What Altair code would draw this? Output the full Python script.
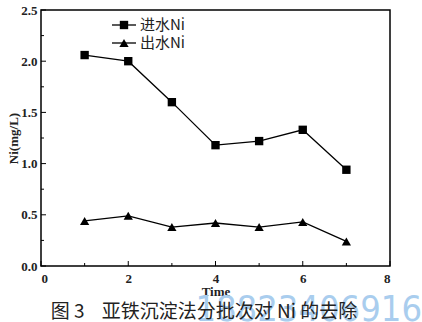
import altair as alt
import pandas as pd

# ---- data ----
time = [1, 2, 3, 4, 5, 6, 7]
ni_in = [2.06, 2.00, 1.60, 1.18, 1.22, 1.33, 0.94]
ni_out = [0.44, 0.49, 0.38, 0.42, 0.38, 0.43, 0.24]
series_names = ["进水Ni", "出水Ni"]

y_major = [0.0, 0.5, 1.0, 1.5, 2.0, 2.5]
y_minor = [0.25, 0.75, 1.25, 1.75, 2.25]
x_major = [0, 2, 4, 6, 8]
x_minor = [1, 3, 5, 7]

NB = "\u00a0"
caption = "图" + NB + "3" + NB * 4 + "亚铁沉淀法分批次对" + NB + "Ni" + NB + "的去除"
watermark = "18823406916"

SERIF = "Liberation Serif"

df_in = pd.DataFrame({"Time": time, "Ni": ni_in})
df_out = pd.DataFrame({"Time": time, "Ni": ni_out})

xs = alt.Scale(domain=[0, 8], nice=False, zero=False)
ys = alt.Scale(domain=[0, 2.5], nice=False, zero=False)

x_axis = alt.Axis(values=x_major, format="d", tickSize=0, domain=False, grid=False,
                  labelPadding=6, labelFont=SERIF, labelFontWeight="bold", labelFontSize=13,
                  labelColor="#222", title="Time", titleFont=SERIF, titleFontWeight="bold",
                  titleFontSize=13, titlePadding=0, titleColor="#222")
y_axis = alt.Axis(values=y_major, format=".1f", tickSize=0, domain=False, grid=False,
                  labelPadding=4, labelFont=SERIF, labelFontWeight="bold", labelFontSize=13,
                  labelColor="#222", title="Ni(mg/L)", titleFont=SERIF, titleFontWeight="bold",
                  titleFontSize=13, titlePadding=0, titleColor="#222")

base_in = alt.Chart(df_in).encode(
    x=alt.X("Time:Q", scale=xs, axis=x_axis),
    y=alt.Y("Ni:Q", scale=ys, axis=y_axis),
)
line_in = base_in.mark_line(color="black", strokeWidth=1.3)
pts_in = base_in.mark_point(shape="square", filled=True, color="black", size=70, opacity=1)

base_out = alt.Chart(df_out).encode(
    x=alt.X("Time:Q", scale=xs),
    y=alt.Y("Ni:Q", scale=ys),
)
line_out = base_out.mark_line(color="black", strokeWidth=1.3)
pts_out = base_out.mark_point(shape="triangle-up", filled=True, color="black", size=85, opacity=1)

# inward ticks
def yticks(vals, length):
    return alt.Chart(pd.DataFrame({"v": vals})).mark_rule(color="black", strokeWidth=1).encode(
        y=alt.Y("v:Q", scale=ys), x=alt.value(0), x2=alt.value(length))

def xticks(vals, length):
    return alt.Chart(pd.DataFrame({"v": vals})).mark_rule(color="black", strokeWidth=1).encode(
        x=alt.X("v:Q", scale=xs), y=alt.value(256), y2=alt.value(256 - length))

one = pd.DataFrame({"a": [0]})

# legend
leg = []
for i, (name, shp, sz) in enumerate(zip(series_names, ["square", "triangle-up"], [70, 85])):
    yy = 15 + i * 18
    leg.append(alt.Chart(one).mark_rule(color="black", strokeWidth=1.3).encode(
        x=alt.value(71), x2=alt.value(95), y=alt.value(yy)))
    leg.append(alt.Chart(one).mark_point(shape=shp, filled=True, color="black", size=sz, opacity=1).encode(
        x=alt.value(83), y=alt.value(yy)))
    leg.append(alt.Chart(one).mark_text(align="left", baseline="middle", fontSize=15,
                                        font="Noto Sans CJK SC", color="#222").encode(
        x=alt.value(99), y=alt.value(yy), text=alt.value(name)))

wm = alt.Chart(one).mark_text(align="right", baseline="alphabetic", fontSize=36,
                              font="DejaVu Sans Condensed, Liberation Sans", color="#a9cdee").encode(
    x=alt.value(381), y=alt.value(311), text=alt.value(watermark))

cap = alt.Chart(one).mark_text(align="center", baseline="middle", fontSize=19,
                               font="Noto Sans CJK SC", color="#222").encode(
    x=alt.value(163), y=alt.value(302), text=alt.value(caption))

chart = alt.layer(
    wm, line_in, pts_in, line_out, pts_out,
    yticks(y_major, 5), yticks(y_minor, 3), xticks(x_major, 5), xticks(x_minor, 3),
    *leg, cap,
).properties(
    width=349, height=256,
    autosize=alt.AutoSizeParams(type="none"),
    padding={"left": 41, "top": 10, "right": 32, "bottom": 56},
    background="white",
).configure_view(stroke="black", strokeWidth=1.5)

chart.save("out.html", embed_options={"renderer": "svg", "actions": False})
